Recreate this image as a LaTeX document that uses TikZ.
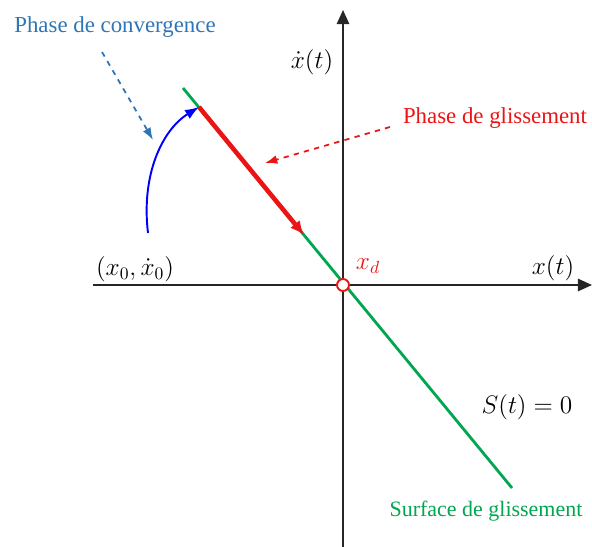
\documentclass[tikz,border=0pt]{standalone}
\usepackage{fontspec}
\setmainfont{Liberation Serif}
\usepackage{tikz}
\usetikzlibrary{arrows.meta,positioning}
\definecolor{convblue}{RGB}{46,117,182}
\definecolor{glisred}{RGB}{235,20,20}
\definecolor{surfgreen}{RGB}{0,166,80}
\begin{document}
\begin{tikzpicture}[x=0.02cm,y=-0.02cm,>=Latex,font=\fontsize{13}{15}\selectfont,
axis/.style={-{Triangle[length=8pt,width=7pt]},line width=1.1pt,black!85},
mth/.style={font=\fontsize{14}{16}\selectfont,inner sep=0pt},
dasharr/.style={-{Latex[length=7pt,width=5pt]},dashed,line width=1pt}]
\useasboundingbox (0,0) rectangle (592,547);
% axes
\coordinate (xl) at (93,285);
\coordinate (xr) at (592,285);
\coordinate (yb) at (343,547);
\coordinate (yt) at (343,10);
\draw[axis] (xl)--(xr);
\draw[axis] (yb)--(yt);
% surface de glissement
\coordinate (s0) at (183,88);
\coordinate (s1) at (512,488);
\draw[surfgreen,line width=1.6pt] (s0)--(s1);
\coordinate (g0) at (199,107);
\coordinate (g1) at (304,235);
\draw[glisred,line width=2.6pt,-{Latex[length=8pt,width=7pt]}] (g0)--(g1);
\node[circle,draw=glisred,fill=white,line width=1.1pt,minimum size=0.24cm,inner sep=0pt] (xd0) at (343,285) {};
% phase de convergence
\coordinate (c0) at (148,233);
\draw[blue,line width=1.1pt,->] (c0) .. controls (141,175) and (162,130) .. (g0);
\node[convblue] (conv) at (115,27) {Phase de convergence};
\coordinate (cva) at (102,52);
\coordinate (cvb) at (153,140);
\draw[dasharr,convblue] (cva)--(cvb);
\node[glisred] (glis) at (495,118) {Phase de glissement};
\coordinate (gla) at (390,127);
\coordinate (glb) at (265,163);
\draw[dasharr,glisred] (gla)--(glb);
% labels
\node[mth] (xdot) at (312,62) {$\dot{x}(t)$};
\node[mth] (xt) at (553,268) {$x(t)$};
\node[mth,glisred] (xd) at (368,266) {$x_d$};
\node[mth] (x0) at (135,269) {$(x_0,\dot{x}_0)$};
\node[mth] (st) at (527,407) {$S(t)=0$};
\node[surfgreen,font=\fontsize{12.5}{15}\selectfont] (surf) at (486,511) {Surface de glissement};
\end{tikzpicture}
\end{document}
